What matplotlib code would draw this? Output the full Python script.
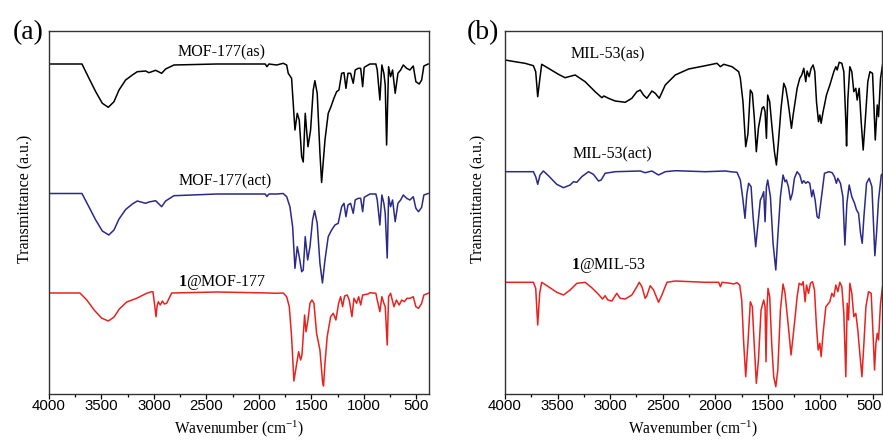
import matplotlib
matplotlib.use("Agg")
import matplotlib.pyplot as plt
from matplotlib.ticker import MultipleLocator, FixedLocator
from matplotlib.transforms import ScaledTranslation

plt.rcParams['mathtext.fontset'] = 'custom'
plt.rcParams['mathtext.rm'] = 'Liberation Serif'
plt.rcParams['mathtext.bf'] = 'Liberation Serif:bold'
plt.rcParams['mathtext.it'] = 'Liberation Serif:italic'

# ---------------- Panel (a) data: (wavenumber, transmittance a.u.) ----------------
mof_as_wn = [4000, 3686, 3619, 3555, 3492, 3435, 3381, 3333, 3270, 3206, 3159, 3079, 3048, 2984, 2927, 2889, 2810, 2400, 1940, 1924, 1905, 1831, 1769, 1736, 1721, 1689, 1657, 1635, 1616, 1593, 1578, 1559, 1533, 1508, 1483, 1467, 1445, 1419, 1403, 1371, 1340, 1314, 1286, 1260, 1238, 1212, 1190, 1171, 1152, 1127, 1102, 1083, 1054, 1031, 1012, 997, 943, 886, 873, 848, 829, 810, 797, 784, 765, 746, 727, 702, 676, 650, 625, 593, 562, 530, 505, 473, 450, 429, 388]
mof_as_t = [330, 330, 315.7, 302.3, 290.7, 286.7, 292.3, 304, 314, 319, 322.3, 323, 321.3, 323.7, 320.7, 325, 329, 330, 330, 327.3, 330, 329, 330.7, 329, 320.7, 315.7, 264, 280.7, 274, 237.3, 232, 280.7, 247.3, 264, 304, 313.3, 300.7, 241, 211.5, 254, 280.7, 287.3, 295.7, 302.3, 304, 320.7, 321.3, 305.7, 320.7, 320.7, 310.7, 324, 325.7, 325.7, 307.3, 326.7, 330, 330, 324, 294, 329, 320.7, 309, 249, 327.3, 317.3, 324, 300.7, 320.7, 324, 329, 325.7, 324, 328, 312.3, 310, 314, 328, 330]

mof_act_wn = [4000, 3686, 3619, 3555, 3492, 3430, 3381, 3333, 3270, 3206, 3159, 3079, 3048, 2984, 2927, 2889, 2810, 2400, 1940, 1924, 1905, 1831, 1769, 1736, 1705, 1679, 1657, 1635, 1616, 1593, 1578, 1559, 1536, 1514, 1489, 1470, 1445, 1419, 1395, 1371, 1340, 1308, 1276, 1245, 1212, 1190, 1171, 1152, 1127, 1102, 1083, 1054, 1031, 1012, 997, 943, 886, 873, 848, 829, 810, 797, 778, 765, 746, 727, 702, 676, 650, 625, 593, 562, 530, 505, 480, 450, 429, 388]
mof_act_t = [200.5, 200.5, 187, 174, 163, 159, 164, 175, 184.5, 190, 193, 190.7, 192, 193.3, 187.3, 193, 198.3, 200, 200, 197.5, 200, 200, 200.5, 197.3, 187.3, 167.3, 125.7, 147.3, 137.3, 122.3, 124, 157.3, 134, 147.3, 174, 183.3, 170.7, 130.7, 111, 134, 157.3, 164, 169, 170.7, 187.3, 190.7, 177.3, 189, 190.7, 180.7, 194, 195.7, 195.7, 182.3, 196.7, 200, 200, 194, 169, 199, 190.7, 180.7, 136, 197.3, 187.3, 194, 172.3, 190.7, 194, 199, 195.7, 194, 197.3, 185.7, 182.3, 186.7, 199, 200.5]

mof_load_wn = [4000, 3705, 3640, 3570, 3500, 3435, 3380, 3330, 3260, 3165, 3070, 3022, 3010, 2990, 2981, 2970, 2959, 2940, 2920, 2900, 2879, 2850, 2831, 2400, 1900, 1831, 1769, 1736, 1711, 1689, 1667, 1645, 1622, 1603, 1590, 1565, 1552, 1533, 1514, 1495, 1476, 1451, 1419, 1394, 1385, 1371, 1350, 1317, 1292, 1267, 1241, 1222, 1203, 1184, 1159, 1140, 1114, 1095, 1070, 1050, 1031, 1012, 960, 943, 886, 873, 848, 829, 810, 797, 778, 765, 746, 714, 690, 664, 640, 615, 590, 562, 530, 505, 480, 450, 429, 388]
mof_load_t = [101, 101, 94, 84, 76, 73, 77, 85, 92, 95.7, 100.7, 102.3, 102.3, 86, 77.3, 88, 92.3, 89, 93, 90, 90.7, 97, 101, 102, 101, 100.7, 101, 97.3, 87.3, 57.3, 13, 27.3, 42.3, 34, 39, 79, 62.3, 74, 90.7, 94, 90.7, 60.7, 44, 12.3, 8, 30.7, 57.3, 77.3, 80.7, 74, 90.7, 97.3, 87.3, 98, 99, 94, 77.3, 95.7, 90.7, 97.3, 89, 99, 100, 101.3, 100.7, 94, 82.3, 97.3, 90.7, 87.3, 49, 97.3, 100.7, 87.3, 94, 89, 94, 92.3, 95.7, 95.7, 97.3, 87.3, 85.7, 90.7, 99, 100.7]

# ---------------- Panel (b) data ----------------
mil_as_wn = [4000, 3905, 3810, 3730, 3708, 3689, 3670, 3651, 3587, 3492, 3429, 3333, 3238, 3143, 3079, 3060, 3016, 2952, 2857, 2794, 2746, 2714, 2683, 2651, 2603, 2571, 2533, 2476, 2381, 2254, 2095, 1984, 1952, 1920, 1841, 1778, 1762, 1737, 1711, 1690, 1667, 1648, 1629, 1610, 1590, 1556, 1540, 1527, 1514, 1502, 1483, 1460, 1438, 1419, 1400, 1375, 1349, 1330, 1311, 1292, 1276, 1260, 1241, 1222, 1197, 1178, 1159, 1140, 1127, 1108, 1089, 1070, 1054, 1038, 1019, 1006, 994, 975, 943, 911, 892, 873, 854, 841, 822, 797, 778, 759, 752, 740, 721, 702, 683, 664, 651, 632, 613, 594, 575, 550, 530, 505, 492, 479, 460, 448, 429, 410]
mil_as_t = [334, 332.3, 330.7, 328.3, 322.3, 297.3, 314, 329.7, 325.7, 319.7, 316.3, 319, 312.3, 302.3, 296.3, 298, 295.7, 293, 291.7, 295.7, 302.3, 304, 299, 295.7, 303, 300.7, 295.7, 309, 319, 325, 328.3, 330.7, 327.3, 329.7, 327.3, 322.3, 315.7, 292.3, 247.3, 260, 304, 300.7, 275.7, 242.3, 266, 285.7, 287.3, 282.3, 255.7, 299, 292.3, 265.7, 242.3, 229, 252, 285.7, 310.7, 305.7, 294, 279, 265.7, 279, 292.3, 305.7, 315.7, 319, 325.7, 312.3, 323, 317.3, 325.7, 329, 322.3, 292.3, 272.3, 279, 270.7, 282.3, 299, 309, 315.7, 322.3, 327.3, 324, 331.7, 330.7, 322.3, 272.3, 248, 294, 327.3, 322.3, 302.3, 305.7, 294, 305.7, 272.3, 244, 272.3, 312.3, 322.3, 320.7, 289, 254, 289, 277.3, 315.7, 329]

mil_act_wn = [4000, 3730, 3708, 3689, 3667, 3635, 3587, 3508, 3444, 3381, 3349, 3317, 3270, 3206, 3159, 3111, 3086, 3048, 2952, 2714, 2667, 2603, 2540, 2476, 2381, 2095, 1905, 1857, 1794, 1762, 1737, 1718, 1700, 1683, 1660, 1641, 1616, 1597, 1572, 1556, 1540, 1527, 1514, 1502, 1476, 1451, 1425, 1406, 1381, 1356, 1337, 1324, 1305, 1286, 1267, 1248, 1222, 1197, 1175, 1159, 1140, 1121, 1102, 1083, 1070, 1051, 1032, 1016, 994, 962, 920, 889, 867, 849, 835, 810, 787, 768, 749, 727, 702, 676, 657, 638, 619, 603, 587, 562, 537, 511, 492, 483, 467, 448, 422, 405]
mil_act_t = [222.3, 222.3, 217.3, 209.7, 219, 223, 218.3, 209.7, 206.3, 209, 212.3, 211.7, 217.3, 222.3, 219.7, 213, 214, 220.7, 222.3, 223, 221.3, 223, 219, 222.3, 223.3, 222.3, 223, 222.3, 221.7, 214, 194, 175.7, 200, 210.7, 207.3, 177.3, 147.3, 167.3, 194, 197.3, 202.3, 172.3, 207.3, 214, 197.3, 150.7, 124, 157.3, 197.3, 219, 212.3, 214, 207.3, 194, 200.7, 215.7, 222.3, 219, 210.7, 213.3, 210.7, 212.3, 210.7, 197.3, 204, 194, 177.3, 175.7, 194, 220.7, 222.3, 221.3, 217.3, 210.7, 215.7, 210.7, 197.3, 149, 190.7, 209, 197.3, 190.7, 184, 180.7, 160.7, 150.7, 177.3, 210.7, 215.7, 207.3, 160.7, 138.3, 160.7, 194, 219, 220.7]

mil_load_wn = [4000, 3730, 3708, 3689, 3670, 3651, 3587, 3508, 3444, 3381, 3317, 3238, 3175, 3111, 3073, 3048, 3022, 2984, 2937, 2905, 2857, 2794, 2746, 2724, 2698, 2667, 2651, 2619, 2587, 2540, 2508, 2460, 2381, 2095, 1968, 1952, 1936, 1857, 1825, 1794, 1768, 1749, 1730, 1711, 1690, 1667, 1648, 1629, 1610, 1590, 1565, 1540, 1527, 1518, 1508, 1499, 1483, 1464, 1445, 1425, 1406, 1381, 1356, 1337, 1318, 1299, 1280, 1261, 1241, 1222, 1203, 1178, 1165, 1146, 1133, 1114, 1095, 1076, 1057, 1038, 1022, 1006, 994, 975, 949, 911, 892, 873, 854, 835, 816, 797, 778, 759, 746, 733, 721, 702, 683, 664, 645, 626, 606, 587, 568, 543, 518, 499, 486, 473, 460, 448, 429, 410]
mil_load_t = [111.7, 111.7, 105.7, 69, 101, 111.7, 107.3, 101.7, 99, 104, 110.7, 111.7, 106.3, 99.7, 95, 98.3, 94, 93, 100.7, 95.7, 95, 99, 107.3, 111.7, 107.3, 95.7, 98.3, 108.3, 104, 91.7, 99, 111.7, 113, 111.7, 111.7, 107.3, 111.7, 110.7, 110, 111.3, 109, 94, 50.7, 17.3, 50.7, 92.3, 87.3, 47.3, 10.7, 34, 84, 94, 87.3, 32.3, 87.3, 105.7, 97.3, 50.7, 17.3, 7.3, 24, 84, 110, 100.7, 80.7, 60.7, 39, 57.3, 77.3, 97.3, 110.7, 109, 112.3, 92.3, 109, 100.7, 110.7, 112.3, 104, 67.3, 44, 50.7, 37.3, 60.7, 87.3, 92.3, 100.7, 97.3, 109, 102.3, 111.7, 107.3, 80.7, 17.3, 90.7, 74, 110.7, 100.7, 77.3, 80.7, 64, 40.7, 17.3, 50.7, 87.3, 102.3, 100.7, 57.3, 24, 50.7, 60.7, 54, 90.7, 107.3]

tick_values = [4000, 3500, 3000, 2500, 2000, 1500, 1000, 500]
labels_a = ["MOF-177(as)", "MOF-177(act)", r"$\mathbf{1}$@MOF-177"]
labels_b = ["MIL-53(as)", "MIL-53(act)", r"$\mathbf{1}$@MIL-53"]
colors = ["#000000", "#2a2a8a", "#e8231f"]

W, H = 883, 442
fig = plt.figure(figsize=(W / 100, H / 100), dpi=100)
ax1 = fig.add_axes([49 / W, 1 - 394 / H, (429 - 49) / W, (394 - 31) / H])
ax2 = fig.add_axes([505 / W, 1 - 394 / H, (882 - 505) / W, (394 - 31) / H])

serif = "Liberation Serif"
sans = "Liberation Sans"

series_a = [(mof_as_wn, mof_as_t), (mof_act_wn, mof_act_t), (mof_load_wn, mof_load_t)]
series_b = [(mil_as_wn, mil_as_t), (mil_act_wn, mil_act_t), (mil_load_wn, mil_load_t)]

for ax, series, xmin in [(ax1, series_a, 380), (ax2, series_b, 415)]:
    for (wn, t), c in zip(series, colors):
        ax.plot(wn, t, color=c, lw=1.1)
    ax.set_xlim(4000, xmin)
    ax.set_ylim(0, 363)
    ax.xaxis.set_major_locator(FixedLocator(tick_values))
    ax.xaxis.set_minor_locator(MultipleLocator(250))
    ax.set_yticks([])
    ax.tick_params(axis='x', which='major', direction='out', length=3.5, width=0.9,
                   labelsize=10.8, pad=2, top=False)
    ax.tick_params(axis='x', which='minor', direction='out', length=2.5, width=0.9, top=False)
    for s in ax.spines.values():
        s.set_linewidth(1.0)
        s.set_color("#333333")
    ax.set_xlabel("Wavenumber (cm$^{-1}$)", fontsize=11.2, family=serif)
    ax.set_ylabel("Transmittance (a.u.)", fontsize=11.5, family=serif)
    ax.xaxis.label.set_va('center')
    ax.xaxis.set_label_coords(0.5, -0.097)

ax1.yaxis.set_label_coords(-0.042, 0.537)
ax2.yaxis.set_label_coords(-0.049, 0.537)

# tick labels drawn as real text in a sans font (Arial-like)
for ax, shift_last in [(ax1, 0), (ax2, -4)]:
    ax.set_xticklabels([])
    for v in tick_values:
        dx = shift_last if v == 500 else 0
        tr = ax.get_xaxis_transform() + ScaledTranslation(dx / 100, -5 / 100, fig.dpi_scale_trans)
        ax.text(v, 0, str(v), transform=tr, ha='center', va='top', fontsize=10.8,
                family=sans, clip_on=False)

# curve labels
pos_a = [(2352, 342), (2324, 213), (2352, 112)]
pos_b = [(3019, 340), (2981, 240), (3019, 129)]
for ax, labs, pos in [(ax1, labels_a, pos_a), (ax2, labels_b, pos_b)]:
    for lab, (x, y) in zip(labs, pos):
        ax.text(x, y, lab, ha='center', va='center', fontsize=11.5, family=serif)

fig.text(28 / W, 1 - 33 / H, "(a)", fontsize=20, family=serif, ha='center', va='center')
fig.text(483 / W, 1 - 33 / H, "(b)", fontsize=20, family=serif, ha='center', va='center')

fig.savefig("out.png", dpi=100)
